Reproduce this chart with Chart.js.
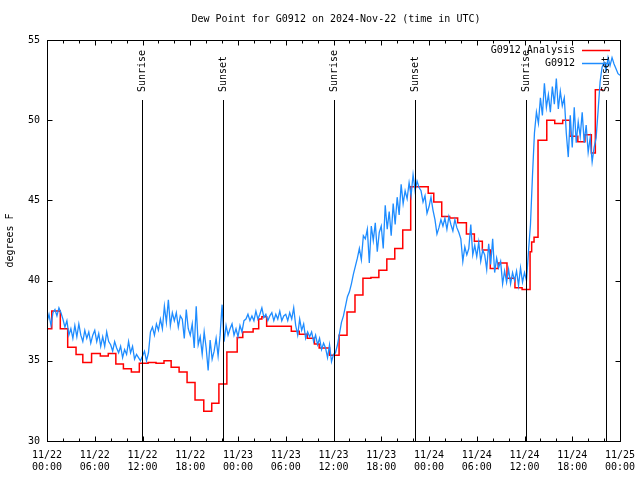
<!DOCTYPE html>
<html>
<head>
<meta charset="utf-8">
<script src="https://cdn.jsdelivr.net/npm/chart.js@4/dist/chart.umd.min.js"></script>
<style>
  html, body { margin: 0; padding: 0; background: #fff; }
  canvas { display: block; }
</style>
</head>
<body>
<canvas id="dewChart" width="640" height="480"></canvas>
<script>
// dados (horas desde 11/22 00:00 UTC)
const xTickLabels = [
  ['11/22', '00:00'], ['11/22', '06:00'], ['11/22', '12:00'], ['11/22', '18:00'],
  ['11/23', '00:00'], ['11/23', '06:00'], ['11/23', '12:00'], ['11/23', '18:00'],
  ['11/24', '00:00'], ['11/24', '06:00'], ['11/24', '12:00'], ['11/24', '18:00'],
  ['11/25', '00:00']
];
const yTicks = [30, 35, 40, 45, 50, 55];

const sunTimes = [11.95, 22.12, 36.1, 46.25, 60.23, 70.3];
const sunLabels = ['Sunrise', 'Sunset', 'Sunrise', 'Sunset', 'Sunrise', 'Sunset'];

// G0912 Analysis (degraus: cada valor vale ate o proximo horario)
const analysisTimes = [0, 0.6, 1.67, 2.6, 3.65, 4.5, 5.6, 6.7, 7.7, 8.65, 9.6, 10.6, 11.6,
  12.7, 13.7, 14.7, 15.6, 16.6, 17.6, 18.6, 19.7, 20.7, 21.6, 22.6, 23.9,
  24.6, 25.9, 26.6, 27.0, 27.6, 30.7, 31.7, 32.7, 33.6, 34.2, 35.5,
  36.7, 37.7, 38.7, 39.7, 40.7, 41.7, 42.7, 43.7, 44.7, 45.7, 47.9,
  48.6, 49.6, 50.6, 51.6, 52.7, 53.7, 54.7, 55.7, 56.7, 57.8, 58.8, 59.7,
  60.7, 60.9, 61.2, 61.7, 62.8, 63.8, 64.8, 65.7, 66.7, 67.6, 68.4, 68.9, 69.9];
const analysisValues = [37.0, 38.1, 37.0, 35.85, 35.4, 34.9, 35.45, 35.3, 35.45, 34.8, 34.5, 34.3, 34.85,
  34.9, 34.85, 35.0, 34.6, 34.3, 33.65, 32.55, 31.85, 32.35, 33.55, 35.55, 36.45,
  36.8, 37.0, 37.6, 37.75, 37.15, 36.85, 36.65, 36.4, 36.05, 35.8, 35.35,
  36.6, 38.05, 39.1, 40.15, 40.2, 40.65, 41.35, 42.0, 43.15, 45.85, 45.45,
  44.9, 44.0, 43.9, 43.6, 42.9, 42.45, 41.9, 40.75, 41.1, 40.15, 39.55, 39.45,
  41.8, 42.4, 42.7, 48.75, 50.0, 49.8, 50.0, 49.0, 48.65, 49.1, 47.95, 51.9, 51.9];

// G0912 observado, a cada 15 minutos
const obsStepHours = 0.25;
const obsValues = [
  37.4, 37.9, 37.2, 38.0,  38.2, 37.8, 38.3, 38.0,  37.6, 37.1, 37.5, 36.6,
  37.0, 36.4, 37.2, 36.5,  37.3, 36.6, 36.2, 36.9,  36.4, 36.8, 36.1, 36.6,
  36.9, 36.2, 36.7, 35.9,  36.5, 35.9, 36.8, 36.2,  36.0, 35.6, 36.2, 35.8,
  35.5, 35.9, 35.2, 35.7,  35.4, 36.2, 35.5, 35.9,  35.1, 35.4, 35.2, 35.0,
  35.3, 35.6, 35.0, 35.5,  36.8, 37.1, 36.6, 37.3,  36.9, 37.6, 37.0, 38.4,
  37.4, 38.8, 37.2, 38.0,  37.5, 38.0, 37.1, 37.8,  37.6, 36.4, 38.2, 37.0,
  36.6, 37.3, 35.8, 38.4,  36.0, 36.5, 35.4, 36.8,  35.8, 34.4, 36.3, 35.1,
  35.6, 36.4, 35.3, 36.6,  38.5, 36.2, 37.2, 36.6,  37.0, 37.3, 36.6, 37.0,
  36.5, 37.2, 36.8, 37.5,  37.6, 37.9, 37.5, 37.8,  37.5, 38.1, 37.6, 37.9,
  38.3, 37.7, 37.9, 37.5,  37.8, 38.0, 37.5, 37.9,  37.6, 38.1, 37.5, 37.8,
  37.9, 37.5, 38.0, 37.6,  38.3, 37.2, 36.6, 37.6,  36.9, 37.3, 36.4, 36.8,
  36.5, 36.8, 36.2, 36.6,  36.0, 36.4, 35.7, 36.1,  35.8, 35.2, 36.0, 34.95,
  35.4, 35.5, 36.0, 36.7,  37.4, 37.8, 38.4, 39.0,  39.3, 39.8, 40.4, 40.9,
  41.4, 42.0, 41.3, 42.8,  42.6, 43.2, 41.1, 43.4,  42.5, 43.6, 41.8, 43.0,
  43.4, 42.0, 44.7, 43.2,  44.3, 42.8, 44.8, 43.5,  45.2, 44.1, 46.0, 44.8,
  45.6, 45.1, 46.1, 45.3,  46.6, 45.6, 46.2, 45.8,  45.6, 44.9, 45.3, 44.2,
  44.6, 45.2, 44.4, 43.8,  42.9, 43.3, 43.8, 43.4,  43.9, 43.2, 44.0, 43.5,
  43.1, 43.8, 43.3, 43.0,  42.6, 41.2, 42.1, 41.6,  42.0, 43.5, 41.6, 42.2,
  41.5, 42.4, 41.2, 41.9,  41.6, 40.7, 42.3, 41.0,  42.6, 40.5, 41.4, 40.8,
  41.2, 39.8, 40.6, 39.9,  40.7, 39.8, 40.5, 40.0,  40.6, 39.7, 40.8, 39.9,
  40.5, 40.0, 41.8, 43.5,  46.5, 49.2, 50.5, 49.8,  51.4, 50.3, 52.3, 50.8,
  51.6, 50.5, 52.1, 51.0,  52.6, 50.7, 51.8, 50.9,  51.4, 49.2, 47.7, 50.3,
  48.3, 50.8, 48.6, 49.9,  49.0, 50.5, 48.6, 49.7,  48.0, 48.9, 47.4, 48.3,
  48.9, 50.6, 52.4, 53.3,  53.6, 53.1, 53.9, 53.4,  53.9, 53.5, 53.2, 52.9,
  52.8
];

const FONT = '10px "DejaVu Sans Mono"';
const monoFont = { family: 'DejaVu Sans Mono', size: 10 };

// plugin com a moldura, tics internos, linhas do sol, legenda e titulo
const gnuplotFrame = {
  id: 'gnuplotFrame',
  afterDatasetsDraw(chart) {
    const ctx = chart.ctx;
    const area = chart.chartArea;
    const xs = chart.scales.x;
    const ys = chart.scales.y;
    const L = Math.round(area.left) + 0.5;
    const R = Math.round(area.right) + 0.5;
    const T = Math.round(area.top) + 0.5;
    const B = Math.round(area.bottom) + 0.5;

    ctx.save();
    ctx.strokeStyle = '#000';
    ctx.lineWidth = 1;

    // linhas de nascer/por do sol
    sunTimes.forEach((t, i) => {
      const px = Math.round(xs.getPixelForValue(t)) + 0.5;
      ctx.beginPath();
      ctx.moveTo(px, 100);
      ctx.lineTo(px, B);
      ctx.stroke();
      ctx.save();
      ctx.translate(px, 92);
      ctx.rotate(-Math.PI / 2);
      ctx.fillStyle = '#000';
      ctx.font = FONT;
      ctx.textAlign = 'left';
      ctx.textBaseline = 'middle';
      ctx.fillText(sunLabels[i], 0, 0);
      ctx.restore();
    });

    // moldura
    ctx.strokeRect(L, T, R - L, B - T);

    // tics do eixo x (maiores a cada 6h, menores a cada 2h)
    ctx.beginPath();
    for (let h = 0; h <= 72; h += 2) {
      const px = Math.round(xs.getPixelForValue(h)) + 0.5;
      const len = (h % 6 === 0) ? 5 : 3;
      ctx.moveTo(px, B); ctx.lineTo(px, B - len);
      ctx.moveTo(px, T); ctx.lineTo(px, T + len);
    }
    yTicks.forEach(v => {
      const py = Math.round(ys.getPixelForValue(v)) + 0.5;
      ctx.moveTo(L, py); ctx.lineTo(L + 5, py);
      ctx.moveTo(R, py); ctx.lineTo(R - 5, py);
    });
    ctx.stroke();

    // legenda
    ctx.font = FONT;
    ctx.fillStyle = '#000';
    ctx.textAlign = 'right';
    ctx.textBaseline = 'middle';
    chart.data.datasets.forEach((ds, i) => {
      const y = 50 + i * 13;
      ctx.fillText(ds.label, 575, y);
      ctx.strokeStyle = ds.borderColor;
      ctx.lineWidth = 1.5;
      ctx.beginPath();
      ctx.moveTo(582, y + 0.5);
      ctx.lineTo(610, y + 0.5);
      ctx.stroke();
    });

    // titulo
    ctx.textAlign = 'center';
    ctx.fillText('Dew Point for G0912 on 2024-Nov-22 (time in UTC)', 336, 19);
    ctx.restore();
  }
};

function buildChart() {
  const ctx = document.getElementById('dewChart').getContext('2d');

  const analysisData = analysisTimes.map((t, i) => ({ x: t, y: analysisValues[i] }));
  const obsData = obsValues.map((v, i) => ({ x: i * obsStepHours, y: v }));

  new Chart(ctx, {
    type: 'line',
    data: {
      datasets: [
        {
          label: 'G0912 Analysis',
          data: analysisData,
          borderColor: '#ff0000',
          borderWidth: 1.5,
          pointRadius: 0,
          stepped: 'before',
          order: 2
        },
        {
          label: 'G0912',
          data: obsData,
          borderColor: '#1e8cff',
          borderWidth: 1.3,
          pointRadius: 0,
          tension: 0,
          order: 1
        }
      ]
    },
    options: {
      responsive: false,
      animation: false,
      layout: { padding: { top: 40, right: 20, left: 0, bottom: 0 } },
      plugins: {
        legend: { display: false },
        tooltip: { enabled: false }
      },
      scales: {
        x: {
          type: 'linear',
          min: 0,
          max: 72,
          grid: { display: false, drawTicks: false },
          border: { display: false },
          ticks: {
            stepSize: 6,
            autoSkip: false,
            maxRotation: 0,
            padding: 8,
            color: '#000',
            font: monoFont,
            callback: v => xTickLabels[Math.round(v / 6)]
          },
          afterFit: s => {
            s.height = 39;
            s.paddingLeft = 0;
            s.paddingRight = 0;
          }
        },
        y: {
          min: 30,
          max: 55,
          grid: { display: false, drawTicks: false },
          border: { display: false },
          ticks: {
            stepSize: 5,
            padding: 7,
            color: '#000',
            font: monoFont
          },
          title: {
            display: true,
            text: 'degrees F',
            color: '#000',
            font: monoFont,
            padding: { top: 4, bottom: 0 }
          },
          afterFit: s => { s.width = 47; }
        }
      }
    },
    plugins: [gnuplotFrame]
  });
}

document.addEventListener('DOMContentLoaded', buildChart);
</script>
</body>
</html>
